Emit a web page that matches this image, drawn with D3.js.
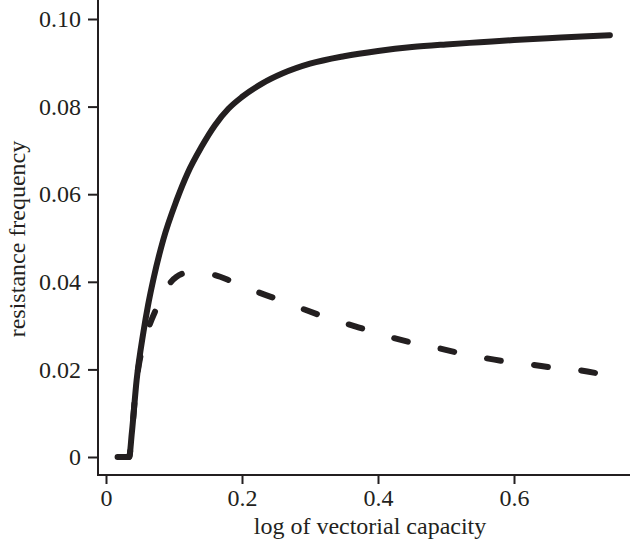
<!DOCTYPE html>
<html>
<head>
<meta charset="utf-8">
<script src="https://cdn.jsdelivr.net/npm/d3@7"></script>
<style>
  body { margin: 0; background: #fff; }
  .axis text { font-family: "Liberation Serif", "Times New Roman", serif; font-size: 24px; fill: #231f20; }
  .axis path, .axis line { stroke: #231f20; stroke-width: 2; }
  .title { font-family: "Liberation Serif", "Times New Roman", serif; font-size: 24px; fill: #231f20; }
</style>
</head>
<body>
<div id="chart"></div>
<script>
// solid curve
var solidX = [0.017, 0.034, 0.038, 0.045, 0.055, 0.062, 0.07, 0.084, 0.104, 0.12, 0.14, 0.16, 0.18, 0.20, 0.23, 0.26, 0.30, 0.35, 0.40, 0.45, 0.50, 0.55, 0.60, 0.65, 0.70, 0.741];
var solidY = [0, 0, 0.0055, 0.0175, 0.0285, 0.0348, 0.0408, 0.0495, 0.0587, 0.0648, 0.0707, 0.0757, 0.0795, 0.0822, 0.0853, 0.0876, 0.0898, 0.0915, 0.0927, 0.0936, 0.0942, 0.0947, 0.0952, 0.0956, 0.0960, 0.0963];
// dashed curve
var dashX = [0.017, 0.034, 0.038, 0.045, 0.052, 0.063, 0.075, 0.094, 0.119, 0.15, 0.187, 0.224, 0.251, 0.288, 0.318, 0.354, 0.384, 0.422, 0.45, 0.488, 0.518, 0.557, 0.588, 0.626, 0.657, 0.696, 0.726];
var dashY = [0, 0, 0.0055, 0.0175, 0.024, 0.0297, 0.0342, 0.0397, 0.042, 0.0418, 0.040, 0.0376, 0.0361, 0.0339, 0.0322, 0.0304, 0.029, 0.0272, 0.0261, 0.0249, 0.0238, 0.0226, 0.0218, 0.0211, 0.0204, 0.0198, 0.019];

var xTicks = [0, 0.2, 0.4, 0.6];
var yTicks = [0, 0.02, 0.04, 0.06, 0.08, 0.10];
var yTickLabels = ["0", "0.02", "0.04", "0.06", "0.08", "0.10"];

var width = 630, height = 539;
var axisX = 98, axisY = 475;
var dashLen = 14, gapLen = 33.5;

var svg = d3.select("#chart").append("svg")
  .attr("width", width)
  .attr("height", height);

var x = d3.scaleLinear().domain([0, 0.6]).range([106, 514]);
var y = d3.scaleLinear().domain([0, 0.10]).range([457, 19]);

// axes
var xAxis = d3.axisBottom(x)
  .tickValues(xTicks)
  .tickSize(9)
  .tickPadding(5)
  .tickFormat(function(d) { return d === 0 ? "0" : d3.format(".1f")(d); });

var gx = svg.append("g")
  .attr("class", "axis")
  .attr("transform", "translate(0," + axisY + ")")
  .call(xAxis);
gx.select(".domain").attr("d", "M" + axisX + ",0H" + width);

var yAxis = d3.axisLeft(y)
  .tickValues(yTicks)
  .tickSize(10)
  .tickPadding(7)
  .tickFormat(function(d, i) { return yTickLabels[i]; });

var gy = svg.append("g")
  .attr("class", "axis")
  .attr("transform", "translate(" + axisX + ",0)")
  .call(yAxis);
gy.select(".domain").attr("d", "M0,0V" + (axisY + 1));

// lines
var line = d3.line()
  .x(function(d) { return x(d[0]); })
  .y(function(d) { return y(d[1]); })
  .curve(d3.curveMonotoneX);

svg.append("path")
  .datum(d3.zip(solidX, solidY))
  .attr("d", line)
  .attr("fill", "none")
  .attr("stroke", "#231f20")
  .attr("stroke-width", 6)
  .attr("stroke-linecap", "round")
  .attr("stroke-linejoin", "round");

var dashed = svg.append("path")
  .datum(d3.zip(dashX, dashY))
  .attr("d", line)
  .attr("fill", "none")
  .attr("stroke", "#231f20")
  .attr("stroke-width", 6)
  .attr("stroke-linecap", "round")
  .attr("stroke-dasharray", dashLen + "," + gapLen);

// line up the dash phase so a dash starts just past the peak (x = 0.16)
var period = dashLen + gapLen;
var node = dashed.node(), total = node.getTotalLength(), target = x(0.16), at = 0;
for (var l = 0; l < total; l += 0.5) {
  if (node.getPointAtLength(l).x >= target) { at = l; break; }
}
dashed.attr("stroke-dashoffset", period - (at % period));

// titles
svg.append("text")
  .attr("class", "title")
  .attr("x", 370)
  .attr("y", 534)
  .attr("text-anchor", "middle")
  .text("log of vectorial capacity");

svg.append("text")
  .attr("class", "title")
  .attr("transform", "translate(25,239) rotate(-90)")
  .attr("text-anchor", "middle")
  .text("resistance frequency");
</script>
</body>
</html>
